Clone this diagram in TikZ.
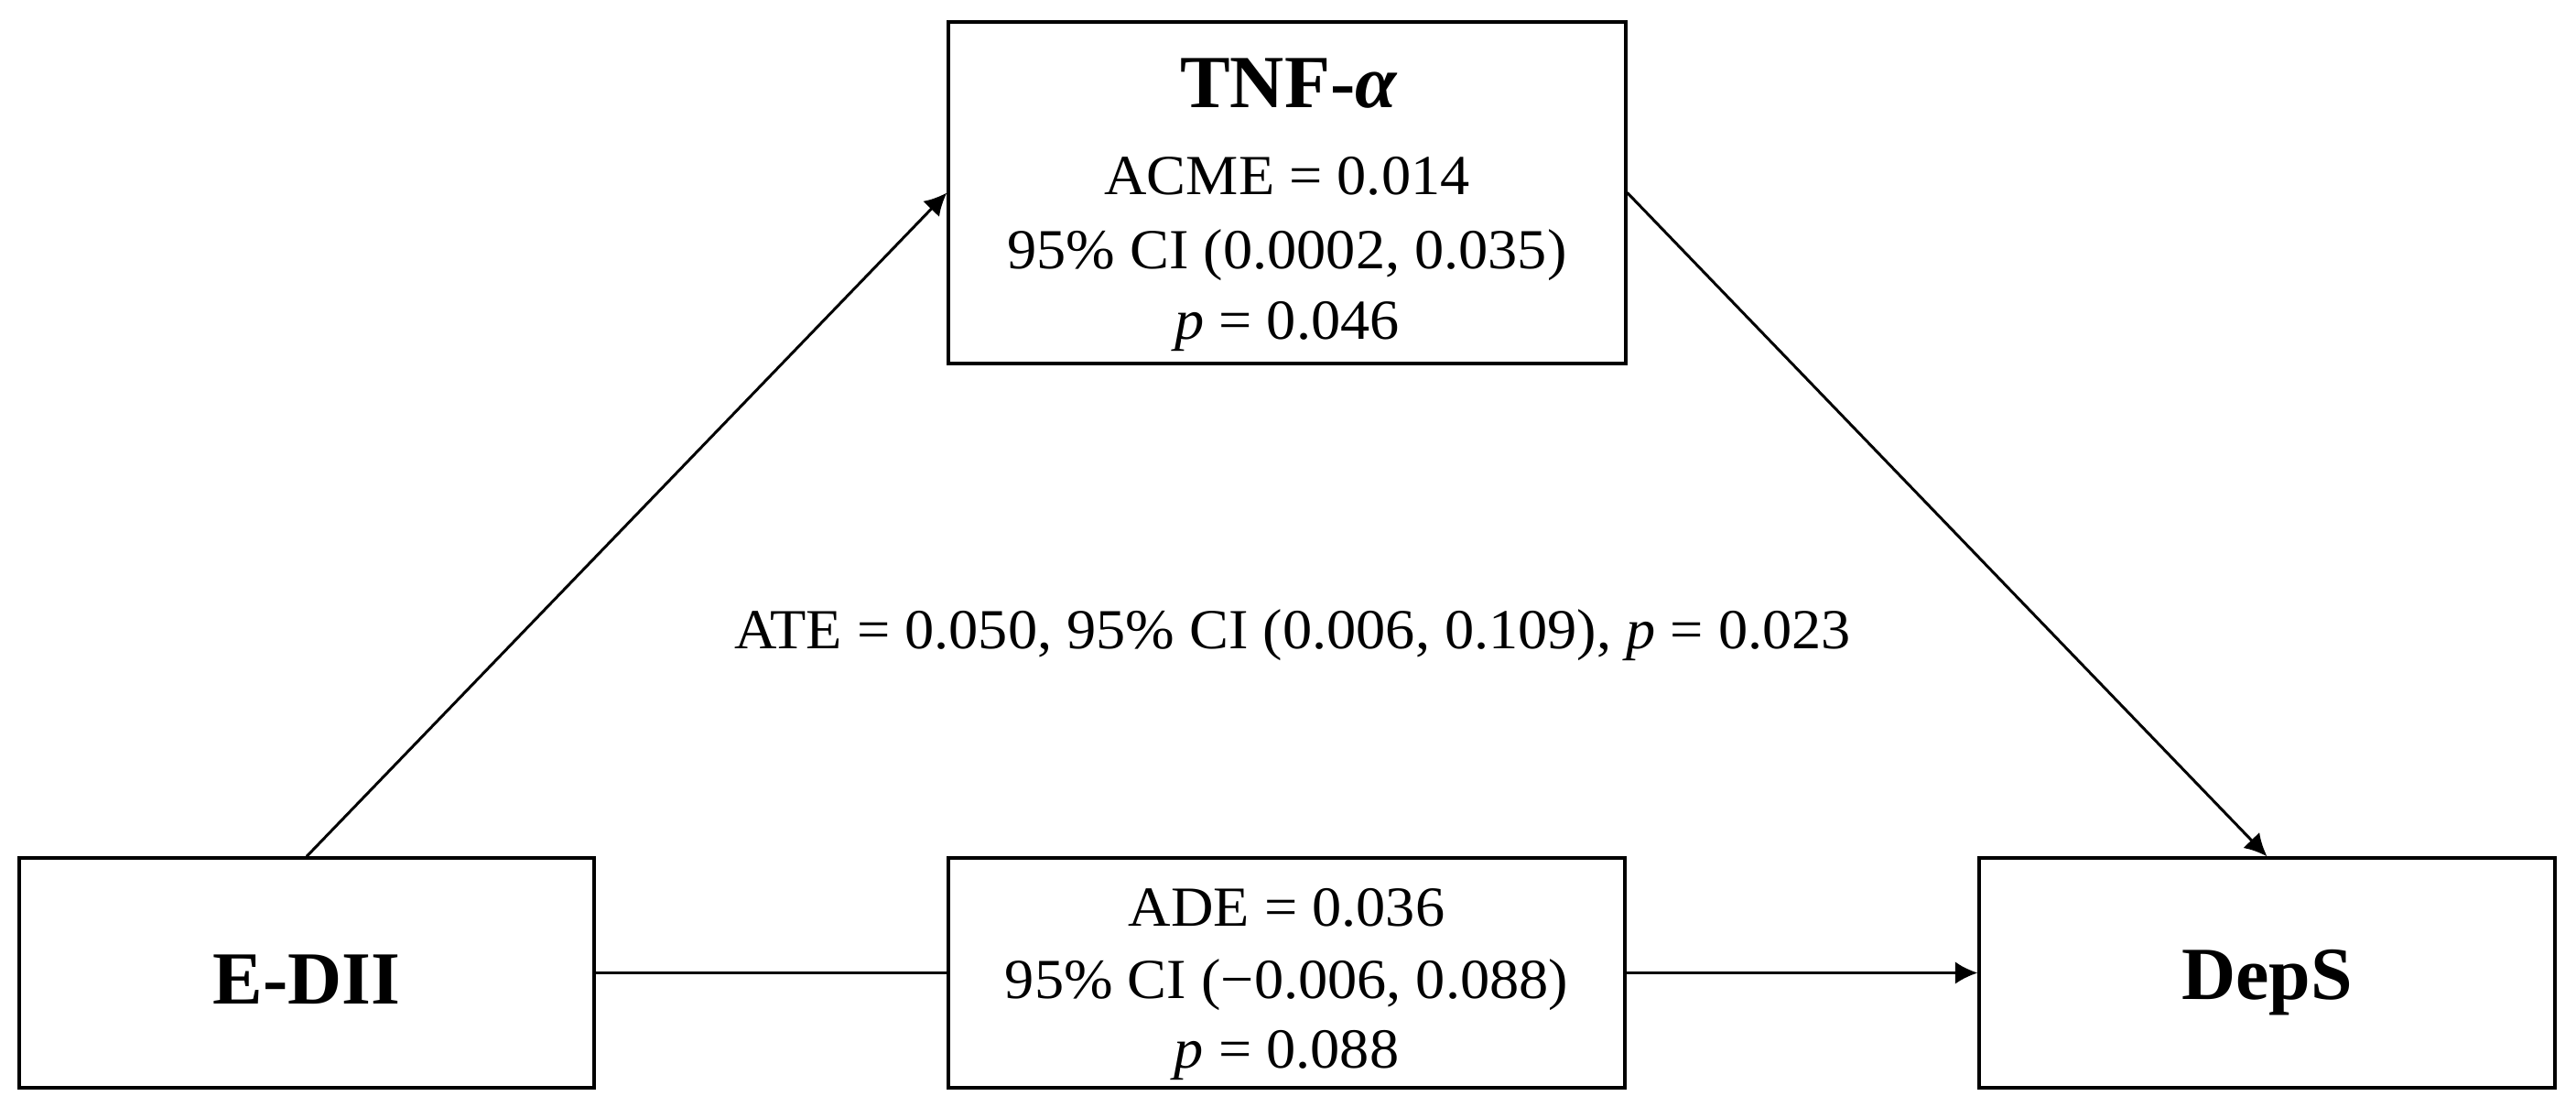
\documentclass[tikz,border=0pt]{standalone}
\usepackage{fontspec}
\setmainfont{Liberation Serif}
\newfontfamily\regfont{Liberation Serif}[FakeStretch=1.04]
\usetikzlibrary{arrows.meta}
\tikzset{
  box/.style={draw=black, line width=0.95pt, rectangle, inner sep=0pt},
  conn/.style={line width=0.85pt, draw=black},
  arr/.style={conn, -{Latex[length=7pt,width=7pt]}},
  txt/.style={anchor=base, inner sep=0pt, font=\regfont\fontsize{17.6}{22}\selectfont},
  ttl/.style={anchor=base, inner sep=0pt, font=\fontsize{23.3}{28}\selectfont\bfseries}
}
\begin{document}
\begin{tikzpicture}
\useasboundingbox (0,0) rectangle (28.14,-12.08);
\fill[white] (0,0) rectangle (28.14,-12.08);
% boxes
\node[box, minimum width=6.28cm, minimum height=2.51cm] (edii) at (3.35,-10.625) {};
\node[box, minimum width=7.40cm, minimum height=3.73cm] (tnf) at (14.06,-2.105) {};
\node[box, minimum width=7.39cm, minimum height=2.51cm] (ade) at (14.055,-10.625) {};
\node[box, minimum width=6.29cm, minimum height=2.51cm] (deps) at (24.765,-10.625) {};
% texts
\node[ttl] (ediit) at (3.35,-10.96) {E-DII};
\node[ttl] (depst) at (24.765,-10.91) {DepS};
\node[ttl] (tnft) at (14.08,-1.17) {TNF-\textit{α}};
\node[txt] (tnf1) at (14.06,-2.12) {ACME = 0.014};
\node[txt] (tnf2) at (14.06,-2.93) {95\% CI (0.0002, 0.035)};
\node[txt] (tnf3) at (14.06,-3.70) {\textit{p} = 0.046};
\node[txt] (ade1) at (14.055,-10.11) {ADE = 0.036};
\node[txt] (ade2) at (14.055,-10.90) {95\% CI (−0.006, 0.088)};
\node[txt] (ade3) at (14.055,-11.66) {\textit{p} = 0.088};
\node[txt] (ate) at (14.12,-7.08) {ATE = 0.050, 95\% CI (0.006, 0.109), \textit{p} = 0.023};
% connectors
\draw[arr] (edii.north) -- (tnf.west);
\draw[arr] (tnf.east) -- (deps.north);
\draw[conn] (edii.east) -- (ade.west);
\draw[arr] (ade.east) -- (deps.west);
\end{tikzpicture}
\end{document}
